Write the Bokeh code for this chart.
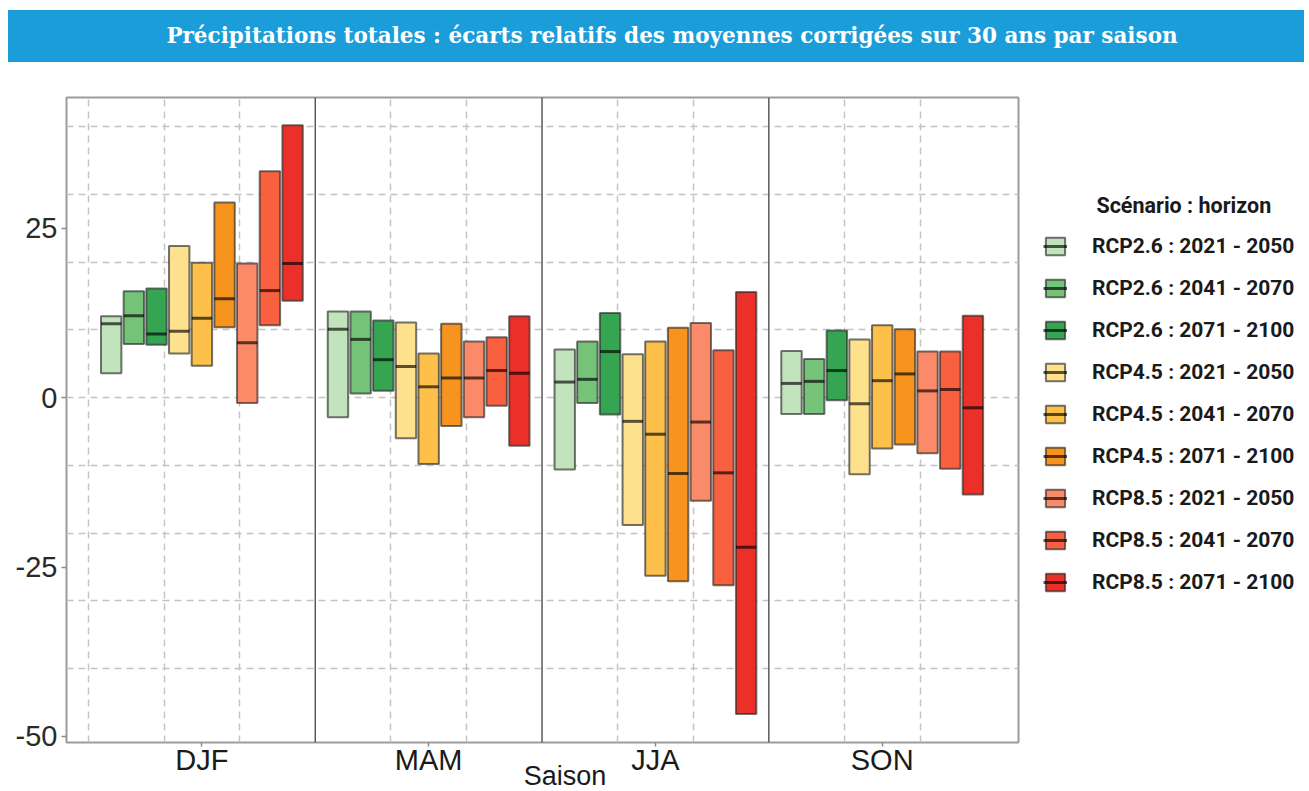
from bokeh.plotting import figure
from bokeh.models import (ColumnDataSource, Range1d, FixedTicker, Span, Legend,
                          LegendItem, Div)
from bokeh.layouts import column
from bokeh.embed import file_html
from bokeh.resources import INLINE

# ---------------- data ----------------
seasons = ["DJF", "MAM", "JJA", "SON"]
scenarios = ["RCP2.6 : 2021 - 2050", "RCP2.6 : 2041 - 2070", "RCP2.6 : 2071 - 2100",
             "RCP4.5 : 2021 - 2050", "RCP4.5 : 2041 - 2070", "RCP4.5 : 2071 - 2100",
             "RCP8.5 : 2021 - 2050", "RCP8.5 : 2041 - 2070", "RCP8.5 : 2071 - 2100"]
colors = ["#c2e4bd", "#74c378", "#35a552",
          "#fee18c", "#fdc14b", "#f7941e",
          "#fb8a68", "#f9603f", "#ea3028"]

djf_low = [3.6, 7.9, 7.8, 6.5, 4.7, 10.4, -0.8, 10.7, 14.3]
djf_med = [10.9, 12.1, 9.4, 9.8, 11.7, 14.6, 8.1, 15.8, 19.8]
djf_high = [12.0, 15.7, 16.1, 22.4, 19.9, 28.8, 19.8, 33.4, 40.2]
mam_low = [-2.9, 0.6, 1.0, -6.0, -9.8, -4.2, -2.9, -1.2, -7.1]
mam_med = [10.1, 8.6, 5.6, 4.6, 1.6, 2.9, 2.9, 4.0, 3.6]
mam_high = [12.7, 12.7, 11.4, 11.1, 6.5, 10.9, 8.3, 8.9, 12.0]
jja_low = [-10.6, -0.8, -2.5, -18.8, -26.3, -27.1, -15.2, -27.7, -46.7]
jja_med = [2.3, 2.7, 6.8, -3.5, -5.4, -11.2, -3.6, -11.1, -22.1]
jja_high = [7.1, 8.3, 12.5, 6.4, 8.3, 10.3, 11.0, 7.0, 15.6]
son_low = [-2.4, -2.4, -0.4, -11.3, -7.5, -6.9, -8.2, -10.5, -14.3]
son_med = [2.1, 2.4, 4.0, -0.9, 2.5, 3.5, 1.0, 1.2, -1.5]
son_high = [6.9, 5.7, 9.9, 8.6, 10.7, 10.1, 6.8, 6.8, 12.1]

y_ticks = [-50, -25, 0, 25]
y_grid = [-40, -30, -20, -10, 0, 10, 20, 30, 40]

lows = [djf_low, mam_low, jja_low, son_low]
meds = [djf_med, mam_med, jja_med, son_med]
highs = [djf_high, mam_high, jja_high, son_high]

# ---------------- build source ----------------
n = len(scenarios)
step = 0.1
bw = 0.09

xs, x0s, x1s, lo, me, hi, fc = [], [], [], [], [], [], []
for i, s in enumerate(seasons):
    for k in range(n):
        x = i + (k - (n - 1) / 2) * step
        xs.append(x)
        x0s.append(x - bw / 2)
        x1s.append(x + bw / 2)
        lo.append(lows[i][k])
        me.append(meds[i][k])
        hi.append(highs[i][k])
        fc.append(colors[k])

src = ColumnDataSource(dict(x=xs, x0=x0s, x1=x1s, low=lo, med=me, high=hi, color=fc))

p = figure(frame_width=952, frame_height=645,
           x_range=Range1d(-0.597, len(seasons) - 0.399),
           y_range=Range1d(-50.9, 44.3),
           output_backend="svg", toolbar_location=None,
           min_border_left=66, min_border_right=285, min_border_top=30,
           min_border_bottom=49,
           background_fill_color="white", border_fill_color="white")

p.outline_line_color = "#9c9c9c"
p.outline_line_width = 2

# grids
sep_pos = [i + 0.5 for i in range(len(seasons) - 1)]
grid_x = []
for i in range(len(seasons)):
    grid_x += [i - 0.5, i - 1 / 6, i + 1 / 6]
grid_x = [g for g in grid_x if all(abs(g - s) > 1e-6 for s in sep_pos)]

p.xgrid.ticker = FixedTicker(ticks=grid_x)
p.ygrid.ticker = FixedTicker(ticks=y_grid)
for g in (p.xgrid, p.ygrid):
    g.grid_line_color = "#c4c4c4"
    g.grid_line_width = 1.5
    g.grid_line_dash = "7 5"

for sp in sep_pos:
    p.add_layout(Span(location=sp, dimension="height", line_color="#5a5a5a",
                      line_width=1.5))

# axes
p.xaxis.ticker = FixedTicker(ticks=list(range(len(seasons))))
p.xaxis.major_label_overrides = {i: s for i, s in enumerate(seasons)}
p.yaxis.ticker = FixedTicker(ticks=y_ticks)
p.yaxis.major_label_overrides = {t: str(t) for t in y_ticks}
for ax in (p.xaxis, p.yaxis):
    ax.axis_line_color = None
    ax.major_tick_line_color = "#8a8a8a"
    ax.major_tick_line_width = 1.5
    ax.major_tick_in = 0
    ax.major_tick_out = 4
    ax.minor_tick_line_color = None
    ax.major_label_text_font = "Liberation Sans"
ax = p.xaxis[0]
ax.major_label_text_font_size = "29px"
ax.major_label_text_color = "#1a1a1a"
ax.major_label_standoff = -3
ax.axis_label = "\u00a0" * 6 + "Saison"
ax.axis_label_text_font = "Liberation Sans"
ax.axis_label_text_font_size = "27px"
ax.axis_label_text_font_style = "normal"
ax.axis_label_text_color = "#1a1a1a"
ax.axis_label_standoff = -18
ay = p.yaxis[0]
ay.major_label_text_font_size = "29px"
ay.major_label_text_color = "#2a2a2a"
ay.major_tick_out = 5
ay.major_label_standoff = 4

# boxes
box_r = p.vbar(x="x", width=bw, bottom="low", top="high", source=src,
               fill_color="color", fill_alpha=1.0,
               line_color="#2a2a2a", line_alpha=0.65, line_width=2)
med_r = p.segment(x0="x0", x1="x1", y0="med", y1="med", source=src,
                  line_color="black", line_alpha=0.65, line_width=3)

items = [LegendItem(label=scenarios[k], renderers=[box_r, med_r], index=k)
         for k in range(n)]
legend = Legend(items=items, location=(25, 148),
                title="\u00a0" * 10 + "Scénario : horizon",
                title_text_font="Roboto", title_text_font_size="21.5px",
                title_text_font_style="bold", title_text_color="#1a1a1a",
                title_standoff=16,
                label_text_font="Roboto", label_text_font_size="21px",
                label_text_font_style="bold", label_text_color="#1a1a1a",
                glyph_width=24, glyph_height=22, label_standoff=25,
                label_height=22, spacing=18, padding=0, margin=0,
                border_line_color=None, background_fill_alpha=0)
p.add_layout(legend, "right")

title_div = Div(
    text=('<div style="margin-top:5px;margin-left:3px;height:52px;width:1296px;'
          'box-sizing:border-box;padding-left:32px;'
          'background:#1b9dd9;color:#ffffff;'
          "font-family:'DejaVu Serif';font-weight:bold;font-size:21.5px;"
          'display:flex;align-items:center;justify-content:center;">'
          'Précipitations totales : écarts relatifs des moyennes corrigées '
          'sur 30 ans par saison</div>'),
    width=1300, height=57)

layout = column(title_div, p, spacing=0)

open("out.html", "w").write(file_html(layout, INLINE))
